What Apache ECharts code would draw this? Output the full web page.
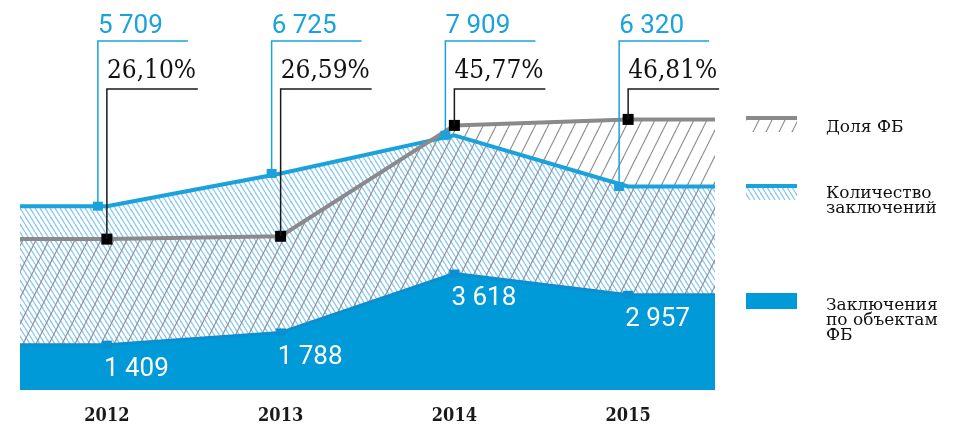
<!DOCTYPE html>
<html>
<head>
<meta charset="utf-8">
<script src="https://cdn.jsdelivr.net/npm/echarts@6/dist/echarts.min.js"></script>
<style>
  html, body { margin: 0; padding: 0; background: #fff; }
  #chart { width: 960px; height: 425px; }
</style>
</head>
<body>
<div id="chart"></div>
<script>
    // данные
    var years = [2012, 2013, 2014, 2015];
    var conclusions = [5709, 6725, 7909, 6320];      // Количество заключений
    var fbShare = [26.10, 26.59, 45.77, 46.81];       // Доля ФБ, %
    var fbConclusions = [1409, 1788, 3618, 2957];     // Заключения по объектам ФБ

    var BLUE = '#1ba1dc';
    var AREA_BLUE = '#009ad8';
    var EDGE_BLUE = '#0a8fd0';
    var GRAY = '#8a8a8a';
    var SERIF_C = '"DejaVu Serif Condensed", "DejaVu Serif", serif';
    var SERIF = '"DejaVu Serif", serif';
    var SANS = 'Roboto, "Liberation Sans", sans-serif';

    var xMin = years[0] - 0.5;
    var xMax = years[years.length - 1] + 0.5;

    // штриховка
    function hatch(w, h, color, lw, back) {
        var c = document.createElement('canvas');
        c.width = w; c.height = h;
        var ctx = c.getContext('2d');
        ctx.strokeStyle = color;
        ctx.lineWidth = lw;
        for (var k = -1; k <= 1; k++) {
            ctx.beginPath();
            if (back) {
                ctx.moveTo(k * w, 0);
                ctx.lineTo(k * w + w, h);
            } else {
                ctx.moveTo(k * w, h);
                ctx.lineTo(k * w + w, 0);
            }
            ctx.stroke();
        }
        return {image: c, repeat: 'repeat'};
    }
    var blueHatch = hatch(5, 8, '#8cc8ee', 1.3, true);
    var grayHatch = hatch(13, 26, '#8e8e8e', 1.2, false);

    function fmtNum(v) {
        return String(v).replace(/\B(?=(\d{3})+(?!\d))/g, ' ');
    }
    function fmtPct(v) {
        return v.toFixed(2).replace('.', ',') + '%';
    }

    // точки + края графика
    function ext(vals) {
        var out = [{value: [xMin, vals[0]], symbol: 'none', label: {show: false}}];
        years.forEach(function (y, i) {
            out.push({value: [y, vals[i]]});
        });
        out.push({value: [xMax, vals[vals.length - 1]], symbol: 'none', label: {show: false}});
        return out;
    }

    var chart = echarts.init(document.getElementById('chart'));

    var option = {
        animation: false,
        grid: {left: 20, right: 245, top: 68, bottom: 35},
        xAxis: {
            type: 'value',
            min: xMin,
            max: xMax,
            axisLine: {show: false},
            axisTick: {show: false},
            splitLine: {show: false},
            axisLabel: {
                customValues: years,
                margin: 17,
                color: '#1a1a1a',
                fontFamily: SERIF_C,
                fontWeight: 'bold',
                fontSize: 18,
                formatter: function (v) { return String(v); }
            }
        },
        yAxis: [
            {type: 'value', min: 0, max: 10000, show: false},
            {type: 'value', min: 0, max: 55.7, show: false}
        ],
        series: [
            {
                name: 'Количество заключений (штриховка)',
                type: 'line',
                yAxisIndex: 0,
                silent: true,
                symbol: 'none',
                lineStyle: {width: 0},
                areaStyle: {color: blueHatch, opacity: 1},
                data: ext(conclusions)
            },
            {
                name: 'Доля ФБ (штриховка)',
                type: 'line',
                yAxisIndex: 1,
                silent: true,
                symbol: 'none',
                lineStyle: {width: 0},
                areaStyle: {color: grayHatch, opacity: 1},
                data: ext(fbShare)
            },
            {
                name: 'Заключения по объектам ФБ',
                type: 'line',
                yAxisIndex: 0,
                symbol: 'rect',
                symbolSize: [10, 8],
                itemStyle: {color: EDGE_BLUE},
                lineStyle: {color: EDGE_BLUE, width: 3},
                areaStyle: {color: AREA_BLUE, opacity: 1},
                label: {
                    show: true,
                    position: 'bottom',
                    distance: 8,
                    align: 'left',
                    offset: [-3, 0],
                    color: '#fff',
                    fontFamily: SANS,
                    fontSize: 26,
                    formatter: function (p) { return fmtNum(p.value[1]); }
                },
                data: ext(fbConclusions)
            },
            {
                name: 'Количество заключений',
                type: 'line',
                yAxisIndex: 0,
                symbol: 'rect',
                symbolSize: [10, 9],
                symbolOffset: [-9, 0],
                itemStyle: {color: BLUE},
                lineStyle: {color: BLUE, width: 4},
                data: ext(conclusions)
            },
            {
                name: 'Доля ФБ',
                type: 'line',
                yAxisIndex: 1,
                symbol: 'rect',
                symbolSize: 11,
                itemStyle: {color: '#000'},
                lineStyle: {color: GRAY, width: 4},
                data: ext(fbShare)
            }
        ]
    };
    chart.setOption(option);

    // выноски и легенда
    var g = [];
    years.forEach(function (y, i) {
        var pc = chart.convertToPixel({seriesIndex: 3}, [y, conclusions[i]]);
        var bx = pc[0] - 9;
        g.push({
            type: 'polyline', z: 100, silent: true,
            shape: {points: [[bx, pc[1]], [bx, 41], [bx + 90, 41]]},
            style: {stroke: BLUE, lineWidth: 1.5, fill: null}
        });
        g.push({
            type: 'text', z: 100, silent: true,
            style: {x: bx, y: 26, text: fmtNum(conclusions[i]), fill: BLUE,
                fontFamily: SANS, fontSize: 26, align: 'left', verticalAlign: 'middle'}
        });

        var ps = chart.convertToPixel({seriesIndex: 4}, [y, fbShare[i]]);
        g.push({
            type: 'polyline', z: 99, silent: true,
            shape: {points: [[ps[0], ps[1]], [ps[0], 89], [ps[0] + 91, 89]]},
            style: {stroke: '#1a1a1a', lineWidth: 1.5, fill: null}
        });
        g.push({
            type: 'text', z: 100, silent: true,
            style: {x: ps[0], y: 71, text: fmtPct(fbShare[i]), fill: '#111',
                fontFamily: SERIF_C, fontSize: 26, align: 'left', verticalAlign: 'middle'}
        });
    });

    var lg = {fill: '#111', fontFamily: SERIF, fontSize: 17, lineHeight: 15, verticalAlign: 'middle'};
    function legendText(y, text) {
        return {type: 'text', silent: true, style: Object.assign({x: 826, y: y, text: text}, lg)};
    }
    g.push(
        {type: 'rect', silent: true, shape: {x: 746, y: 119, width: 51, height: 13}, style: {fill: grayHatch}},
        {type: 'line', silent: true, shape: {x1: 746, y1: 118, x2: 797, y2: 118}, style: {stroke: GRAY, lineWidth: 4}},
        legendText(128, 'Доля ФБ'),

        {type: 'rect', silent: true, shape: {x: 746, y: 187, width: 51, height: 13}, style: {fill: blueHatch}},
        {type: 'line', silent: true, shape: {x1: 746, y1: 186, x2: 797, y2: 186}, style: {stroke: BLUE, lineWidth: 4}},
        legendText(201, 'Количество\nзаключений'),

        {type: 'rect', silent: true, shape: {x: 746, y: 293, width: 51, height: 16}, style: {fill: AREA_BLUE}},
        legendText(321, 'Заключения\nпо объектам\nФБ')
    );
    chart.setOption({graphic: g});
</script>
</body>
</html>
